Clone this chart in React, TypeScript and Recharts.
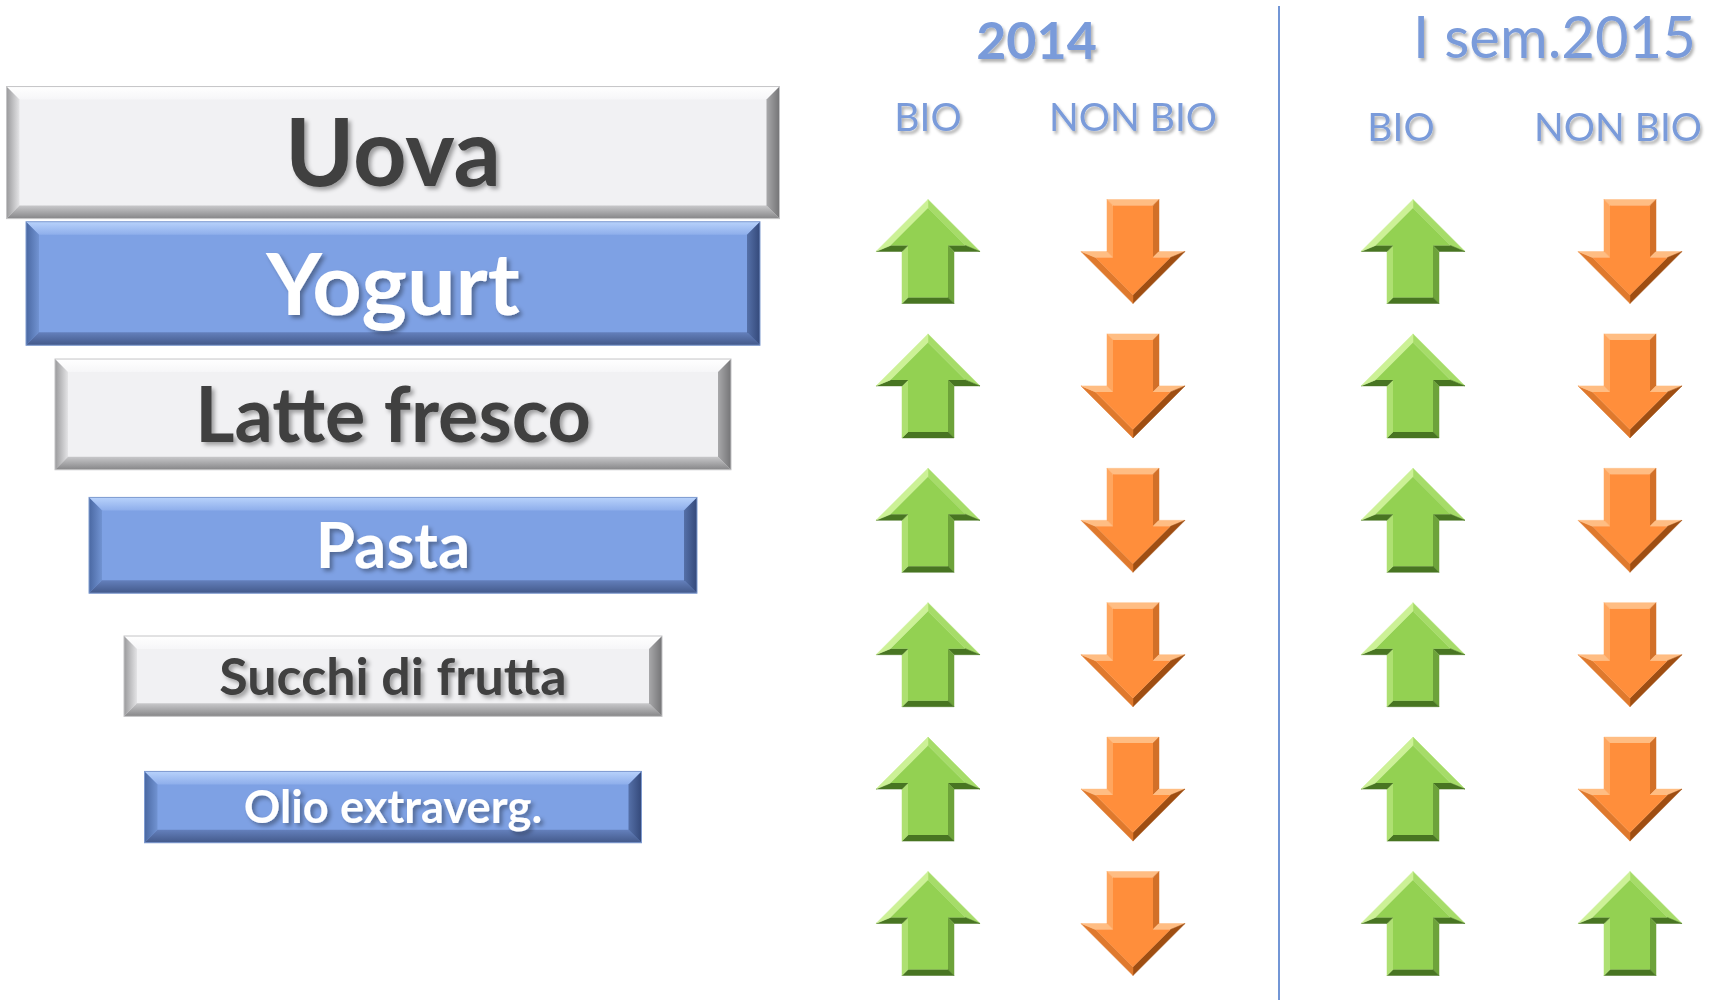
import React from 'react';
import { BarChart, Bar, XAxis, YAxis, ScatterChart, Scatter } from 'recharts';

// funnel of products (largest at top) and the trend arrows per period
const products = ['Uova', 'Yogurt', 'Latte fresco', 'Pasta', 'Succhi di frutta', 'Olio extraverg.'];
const funnelValues = [773, 734, 676, 608, 538, 497];
const columns = ['BIO', 'NON BIO'];
const bio2014 = ['up', 'up', 'up', 'up', 'up', 'up'];
const nonBio2014 = ['down', 'down', 'down', 'down', 'down', 'down'];
const bio2015 = ['up', 'up', 'up', 'up', 'up', 'up'];
const nonBio2015 = ['down', 'down', 'down', 'down', 'down', 'up'];

const HEADER_BLUE = '#7A9BDA';
const FONT = 'Lato, "Open Sans", sans-serif';

type Pt = [number, number];

const hexRgb = (c: string) => {
  const n = parseInt(c.slice(1), 16);
  return [(n >> 16) & 255, (n >> 8) & 255, n & 255];
};
const mix = (a: string, b: string, t: number) => {
  const A = hexRgb(a);
  const B = hexRgb(b);
  return `rgb(${A.map((v, i) => Math.round(v + (B[i] - v) * t)).join(',')})`;
};

// offset every edge inwards and intersect neighbours (polygon is clockwise on screen)
const inset = (pts: Pt[], d: number): Pt[] => {
  const n = pts.length;
  const lines = pts.map((p, i) => {
    const q = pts[(i + 1) % n];
    const dx = q[0] - p[0];
    const dy = q[1] - p[1];
    const len = Math.hypot(dx, dy);
    const nx = -dy / len;
    const ny = dx / len;
    return { p: [p[0] + nx * d, p[1] + ny * d] as Pt, dir: [dx / len, dy / len] as Pt };
  });
  return pts.map((_, i) => {
    const a = lines[(i - 1 + n) % n];
    const b = lines[i];
    const cr = a.dir[0] * b.dir[1] - a.dir[1] * b.dir[0];
    const wx = b.p[0] - a.p[0];
    const wy = b.p[1] - a.p[1];
    const t = (wx * b.dir[1] - wy * b.dir[0]) / cr;
    return [a.p[0] + a.dir[0] * t, a.p[1] + a.dir[1] * t] as Pt;
  });
};

const LIGHT: Pt = [-0.447, -0.894];
const arrowTones: Record<string, { base: string; light: string; dark: string }> = {
  up: { base: '#93D152', light: '#D6F7A2', dark: '#3F6A1C' },
  down: { base: '#FF8E3B', light: '#FFC995', dark: '#9A4A10' },
};

const ARROW = 104;
const ARROW_BEVEL = 6;

const Arrow = ({ cx, cy, trend }: { cx: number; cy: number; trend: string }) => {
  const w = ARROW;
  const h = ARROW;
  const top = cy - h / 2;
  const bottom = cy + h / 2;
  const outer: Pt[] =
    trend === 'up'
      ? [
          [cx, top],
          [cx + w / 2, cy],
          [cx + w / 4, cy],
          [cx + w / 4, bottom],
          [cx - w / 4, bottom],
          [cx - w / 4, cy],
          [cx - w / 2, cy],
        ]
      : [
          [cx - w / 4, top],
          [cx + w / 4, top],
          [cx + w / 4, cy],
          [cx + w / 2, cy],
          [cx, bottom],
          [cx - w / 2, cy],
          [cx - w / 4, cy],
        ];
  const inner = inset(outer, ARROW_BEVEL);
  const tone = arrowTones[trend];
  const n = outer.length;
  return (
    <g>
      {outer.map((p, i) => {
        const q = outer[(i + 1) % n];
        const dx = q[0] - p[0];
        const dy = q[1] - p[1];
        const len = Math.hypot(dx, dy);
        const shade = (dy / len) * LIGHT[0] + (-dx / len) * LIGHT[1];
        const fill = shade >= 0 ? mix(tone.base, tone.light, shade * 0.9) : mix(tone.base, tone.dark, -shade);
        const pts = [p, q, inner[(i + 1) % n], inner[i]].map((v) => v.join(',')).join(' ');
        return <polygon key={i} points={pts} fill={fill} stroke={fill} strokeWidth={0.5} />;
      })}
      <polygon points={inner.map((v) => v.join(',')).join(' ')} fill={tone.base} />
    </g>
  );
};

const barTones = [
  {
    name: 'gray',
    base: '#F1F1F3',
    text: '#404040',
    top: ['#F6F6F8', '#FFFFFF'],
    left: ['#E4E4E6', '#9A9A9C'],
    bottom: ['#C8C8CA', '#868688'],
    right: ['#A8A8AA', '#747476'],
  },
  {
    name: 'blue',
    base: '#7EA1E4',
    text: '#FFFFFF',
    top: ['#8EAEEB', '#B8D2FB'],
    left: ['#7193D2', '#4A68A2'],
    bottom: ['#6480BC', '#43598A'],
    right: ['#5570A8', '#34497A'],
  },
];

const BEVEL = 13;

const FunnelBar = (props: any) => {
  const { x, y, width, height, payload } = props;
  const i = products.indexOf(payload.name);
  const tone = barTones[i % 2];
  const h = width * 0.22 - 38;
  const cy = y + height / 2;
  const t = cy - h / 2;
  const b = BEVEL;
  const x2 = x + width;
  const y2 = t + h;
  const fs = 0.0012 * h * h + 0.55 * h;
  const id = tone.name;
  return (
    <g>
      <rect x={x} y={t} width={width} height={h} fill={tone.base} />
      <polygon points={`${x},${t} ${x2},${t} ${x2 - b},${t + b} ${x + b},${t + b}`} fill={`url(#${id}-top)`} />
      <polygon points={`${x},${t} ${x + b},${t + b} ${x + b},${y2 - b} ${x},${y2}`} fill={`url(#${id}-left)`} />
      <polygon points={`${x},${y2} ${x + b},${y2 - b} ${x2 - b},${y2 - b} ${x2},${y2}`} fill={`url(#${id}-bottom)`} />
      <polygon points={`${x2},${t} ${x2},${y2} ${x2 - b},${y2 - b} ${x2 - b},${t + b}`} fill={`url(#${id}-right)`} />
      <rect x={x} y={t} width={width} height={h} fill="none" stroke={tone.name === 'gray' ? '#C4C4C6' : '#7F9BD0'} strokeWidth={1} />
      <text
        x={x + width / 2}
        y={cy + fs * 0.36}
        textAnchor="middle"
        fontFamily={FONT}
        fontWeight={700}
        fontSize={fs}
        fill={tone.text}
        filter="url(#labelShadow)"
      >
        {payload.name}
      </text>
    </g>
  );
};

const funnelData = products.map((name, i) => ({ name, range: [-funnelValues[i] / 2, funnelValues[i] / 2] }));

const toSeries = (trends: string[], col: string) =>
  products.map((product, i) => ({ product, col, trend: trends[i] }));

const periods = [
  {
    title: '2014',
    series: [toSeries(bio2014, columns[0]), toSeries(nonBio2014, columns[1])],
    left: 825.5,
    plotWidth: 410,
    tickMargin: 47,
    tickDx: 0,
    titleBaseline: 59,
    titleDx: 6,
    titleSize: 52,
    titleWeight: 700,
  },
  {
    title: 'I sem.2015',
    series: [toSeries(bio2015, columns[0]), toSeries(nonBio2015, columns[1])],
    left: 1304.5,
    plotWidth: 434,
    tickMargin: 37,
    tickDx: -12,
    titleBaseline: 58,
    titleDx: 33,
    titleSize: 58,
    titleWeight: 400,
  },
];

const AXIS_H = 184.3;
const CHART_W = 1740;

const PeriodChart = ({ p }: { p: (typeof periods)[number] }) => {
  const renderTick = (t: any) => (
    <text
      x={t.x + p.tickDx}
      y={t.y}
      textAnchor="middle"
      fontFamily={FONT}
      fontSize={39}
      fill={HEADER_BLUE}
      filter="url(#headerShadow)"
    >
      {t.payload.value}
    </text>
  );
  const renderTitle = (lp: any) => {
    const vb = lp.viewBox || { x: p.left, y: 0, width: p.plotWidth };
    return (
      <text
        x={vb.x + vb.width / 2 + p.titleDx}
        y={(vb.y || 0) + p.titleBaseline}
        textAnchor="middle"
        fontFamily={FONT}
        fontSize={p.titleSize}
        fontWeight={p.titleWeight}
        fill={HEADER_BLUE}
        filter="url(#headerShadow)"
      >
        {p.title}
      </text>
    );
  };
  return (
    <div style={{ position: 'absolute', left: 0, top: 0 }}>
      <ScatterChart
        width={CHART_W}
        height={1000}
        margin={{ top: 0, bottom: 9.3, left: p.left, right: CHART_W - p.left - p.plotWidth }}
      >
        <XAxis
          dataKey="col"
          type="category"
          allowDuplicatedCategory={false}
          orientation="top"
          height={AXIS_H}
          axisLine={false}
          tickLine={false}
          tickMargin={p.tickMargin}
          interval={0}
          tick={renderTick}
          label={{ value: p.title, content: renderTitle }}
        />
        <YAxis dataKey="product" type="category" allowDuplicatedCategory={false} hide reversed />
        {p.series.map((s, i) => (
          <Scatter
            key={i}
            data={s}
            isAnimationActive={false}
            shape={(sp: any) => <Arrow cx={sp.cx} cy={sp.cy} trend={sp.payload.trend} />}
          />
        ))}
      </ScatterChart>
    </div>
  );
};

const gradDirs: Record<string, [number, number, number, number]> = {
  top: [0, 1, 0, 0],
  left: [1, 0, 0, 0],
  bottom: [0, 0, 0, 1],
  right: [0, 0, 1, 0],
};

export default function App() {
  return (
    <div style={{ position: 'relative', width: 1715, height: 1000, overflow: 'hidden', background: '#fff' }}>
      <style>{'body{margin:0}'}</style>
      <svg width={0} height={0} style={{ position: 'absolute' }}>
        <defs>
          <filter id="labelShadow" x="-10%" y="-20%" width="130%" height="150%">
            <feDropShadow dx="3" dy="3" stdDeviation="2" floodColor="#000" floodOpacity="0.35" />
          </filter>
          <filter id="headerShadow" x="-10%" y="-20%" width="130%" height="150%">
            <feDropShadow dx="2" dy="3" stdDeviation="1.5" floodColor="#000" floodOpacity="0.3" />
          </filter>
          {barTones.map((tone) =>
            Object.keys(gradDirs).map((side) => {
              const [x1, y1, x2, y2] = gradDirs[side];
              const [inner, outer] = (tone as any)[side];
              return (
                <linearGradient key={tone.name + side} id={`${tone.name}-${side}`} x1={x1} y1={y1} x2={x2} y2={y2}>
                  <stop offset="0%" stopColor={inner} />
                  <stop offset="100%" stopColor={outer} />
                </linearGradient>
              );
            })
          )}
        </defs>
      </svg>

      <div style={{ position: 'absolute', left: 0, top: 0 }}>
        <BarChart
          layout="vertical"
          width={786}
          height={1000}
          data={funnelData}
          margin={{ top: 87, bottom: 127.6, left: 0, right: 0 }}
        >
          <XAxis type="number" domain={[-393, 393]} hide />
          <YAxis type="category" dataKey="name" hide />
          <Bar dataKey="range" shape={FunnelBar} isAnimationActive={false} />
        </BarChart>
      </div>

      <div style={{ position: 'absolute', left: 1278, top: 6, width: 2, height: 994, background: '#7396D6' }} />

      {periods.map((p) => (
        <PeriodChart key={p.title} p={p} />
      ))}
    </div>
  );
}
